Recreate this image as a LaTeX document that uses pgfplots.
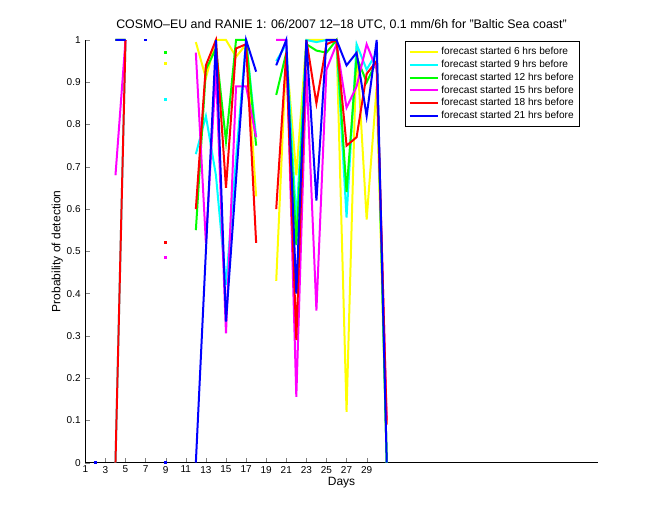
\documentclass[border=0pt]{standalone}
\usepackage{pgfplots}
\pgfplotsset{compat=1.18}
\usepackage{pgfplotstable}
\usepackage{fontspec}
\setmainfont{Liberation Sans}
\definecolor{cY}{rgb}{1,1,0}
\definecolor{cC}{rgb}{0,1,1}
\definecolor{cG}{rgb}{0,1,0}
\definecolor{cM}{rgb}{1,0,1}
\definecolor{cR}{rgb}{1,0,0}
\definecolor{cB}{rgb}{0,0,1}
\pgfplotstableread{
day Y     C     G     M     R     B
4   1     0     1     0.68  0     1
5   1     1     1     1     1     1
6   nan   nan   nan   nan   nan   nan
12  0.995 0.73  0.55  0.97  0.60  0
13  0.91  0.82  0.93  0.52  0.94  0.50
14  1     0.68  0.98  0.93  1     1
15  1     0.42  0.76  0.306 0.65  0.334
16  0.96  0.72  1     0.89  0.98  0.67
17  0.99  1     1     0.89  0.99  1
18  0.63  0.77  0.75  0.77  0.52  0.925
19  nan   nan   nan   nan   nan   nan
20  0.43  0.95  0.87  1     0.60  0.94
21  0.97  0.99  0.97  1     0.97  1
22  0.68  0.57  0.515 0.156 0.29  0.40
23  1     1     0.99  0.93  1     1
24  1     0.995 0.975 0.36  0.85  0.62
25  1     1     0.97  0.93  0.99  1
26  1     0.995 1     0.99  1     1
27  0.12  0.58  0.64  0.84  0.75  0.94
28  0.99  0.99  0.96  0.89  0.77  0.97
29  0.575 0.93  0.90  0.99  0.92  0.82
30  0.89  0.97  0.95  0.93  0.95  1
31  0     0     0     0.10  0.09  0
}\data
\begin{document}
\begin{tikzpicture}
\begin{axis}[
  scale only axis,
  width=384.3pt, height=317pt,
  xmin=1, xmax=52, ymin=0, ymax=1,
  axis x line*=bottom, axis y line*=left,
  tick align=inside,
  major tick length=3.5pt,
  xtick={1,3,...,29},
  ytick={0,0.1,...,1},
  yticklabels={0,0.1,0.2,0.3,0.4,0.5,0.6,0.7,0.8,0.9,1},
  tick label style={font=\fontsize{7.5}{9}\selectfont},
  xticklabel style={yshift=1pt},
  /pgf/number format/assume math mode=true,
  xlabel={Days},
  ylabel={Probability of detection},
  label style={font=\fontsize{9}{11}\selectfont},
  xlabel style={yshift=4pt},
  ylabel style={yshift=-4pt},
  title={COSMO–EU and RANIE 1: 06/2007 12–18 UTC, 0.1 mm/6h for "Baltic Sea coast"},
  title style={font=\fontsize{9.3}{11}\selectfont, yshift=-2pt},
  clip=false,
  unbounded coords=jump,
  every axis plot/.append style={line width=1.5pt},
  legend style={at={(0.9655,0.9976)}, anchor=north east,
    font=\fontsize{7.6}{8}\selectfont, draw=black, line width=0.5pt,
    row sep=-1.4pt, inner sep=2.5pt},
  legend cell align=left,
  legend image code/.code={\draw[#1] (0pt,0pt) -- (21pt,0pt);},
]
\addplot[cY, no marks] table[x=day,y=Y]{\data};
\addlegendentry{forecast started 6 hrs before}
\addplot[cC, no marks] table[x=day,y=C]{\data};
\addlegendentry{forecast started 9 hrs before}
\addplot[cG, no marks] table[x=day,y=G]{\data};
\addlegendentry{forecast started 12 hrs before}
\addplot[cM, no marks] table[x=day,y=M]{\data};
\addlegendentry{forecast started 15 hrs before}
\addplot[cR, no marks] table[x=day,y=R]{\data};
\addlegendentry{forecast started 18 hrs before}
\addplot[cB, no marks] table[x=day,y=B]{\data};
\addlegendentry{forecast started 21 hrs before}
\addplot[forget plot, only marks, mark=square*, mark size=0.7pt, cY, line width=0pt] coordinates {(9,0.945)};
\addplot[forget plot, only marks, mark=square*, mark size=0.7pt, cC, line width=0pt] coordinates {(9,0.86)};
\addplot[forget plot, only marks, mark=square*, mark size=0.7pt, cG, line width=0pt] coordinates {(9,0.97)};
\addplot[forget plot, only marks, mark=square*, mark size=0.7pt, cM, line width=0pt] coordinates {(9,0.485)};
\addplot[forget plot, only marks, mark=square*, mark size=0.7pt, cR, line width=0pt] coordinates {(9,0.52)};
\addplot[forget plot, only marks, mark=square*, mark size=0.7pt, cB, line width=0pt] coordinates {(2,0) (7,1) (9,0)};
\end{axis}
\pgfresetboundingbox
\path ([xshift=-64pt,yshift=-43pt]current axis.south west) rectangle ([xshift=46.7pt,yshift=30pt]current axis.north east);
\end{tikzpicture}
\end{document}
